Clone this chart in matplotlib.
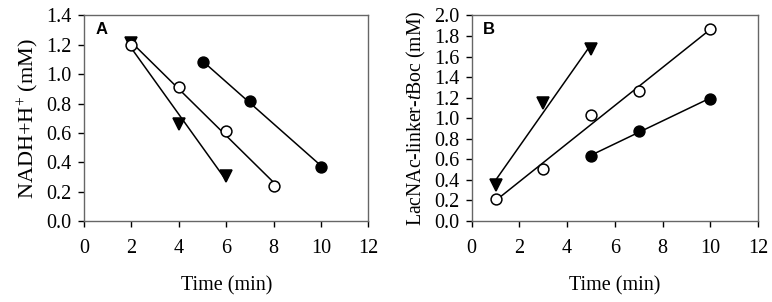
import matplotlib
matplotlib.use("Agg")
import matplotlib.pyplot as plt
import numpy as np

plt.rcParams['font.family'] = ['Liberation Serif', 'DejaVu Serif']
plt.rcParams['mathtext.fontset'] = 'custom'
plt.rcParams['mathtext.rm'] = 'Liberation Serif'
plt.rcParams['mathtext.it'] = 'Liberation Serif:style=italic'

# Panel A: NADH consumption
a_tri_x = [2, 4, 6]
a_tri_y = [1.21, 0.66, 0.31]
a_open_x = [2, 4, 6, 8]
a_open_y = [1.20, 0.91, 0.61, 0.24]
a_fill_x = [5, 7, 10]
a_fill_y = [1.08, 0.82, 0.37]

# Panel B: LacNAc-linker-tBoc formation
b_tri_x = [1, 3, 5]
b_tri_y = [0.35, 1.15, 1.67]
b_open_x = [1, 3, 5, 7, 10]
b_open_y = [0.21, 0.51, 1.03, 1.26, 1.87]
b_fill_x = [5, 7, 10]
b_fill_y = [0.63, 0.88, 1.19]

xticks = [0, 2, 4, 6, 8, 10, 12]


def plot_series(ax, x, y, marker, face):
    """
    Plot points with their linear regression line
    """
    x = np.array(x, dtype=float)
    y = np.array(y, dtype=float)
    k, b = np.polyfit(x, y, 1)
    xs = np.array([x.min(), x.max()])
    ax.plot(xs, k * xs + b, color='black', linewidth=1.1, zorder=2)
    ax.plot(x, y, linestyle='none', marker=marker, markersize=7.8 if marker == 'o' else 8.5,
            markerfacecolor=face, markeredgecolor='black', markeredgewidth=1.1, zorder=3)


def style_axes(ax, ylim, ystep, ylabel, letter, ylabel_size):
    ax.set_xlim(0, 12)
    ax.set_ylim(*ylim)
    ax.set_xticks(xticks)
    ax.set_yticks(np.round(np.arange(ylim[0], ylim[1] + 1e-9, ystep), 1))
    ax.yaxis.set_major_formatter(matplotlib.ticker.FormatStrFormatter('%.1f'))
    for s in ax.spines.values():
        s.set_color('#666666')
        s.set_linewidth(1.0)
    ax.tick_params(direction='out', length=4, width=1, color='black', labelsize=14.5)
    ax.tick_params(axis='x', pad=9)
    ax.tick_params(axis='y', pad=5)
    ax.set_xlabel('Time (min)', fontsize=14.5, labelpad=13)
    ax.set_ylabel(ylabel, fontsize=ylabel_size, labelpad=4)
    ax.text(0.04, 0.93, letter, transform=ax.transAxes, fontsize=12, fontweight='bold',
            family='Liberation Sans', va='center', ha='left')


fig = plt.figure(figsize=(7.72, 3.02), dpi=100)
ax1 = fig.add_axes([0.1088, 0.268, 0.3685, 0.681])
ax2 = fig.add_axes([0.611, 0.268, 0.371, 0.681])

plot_series(ax1, a_tri_x, a_tri_y, 'v', 'black')
plot_series(ax1, a_open_x, a_open_y, 'o', 'white')
plot_series(ax1, a_fill_x, a_fill_y, 'o', 'black')
style_axes(ax1, (0.0, 1.4), 0.2, 'NADH+H$^{+}$ (mM)', 'A', 16)

plot_series(ax2, b_tri_x, b_tri_y, 'v', 'black')
plot_series(ax2, b_open_x, b_open_y, 'o', 'white')
plot_series(ax2, b_fill_x, b_fill_y, 'o', 'black')
style_axes(ax2, (0.0, 2.0), 0.2, 'LacNAc-linker-$t$Boc (mM)', 'B', 14.2)

fig.savefig('out.png', dpi=100)
